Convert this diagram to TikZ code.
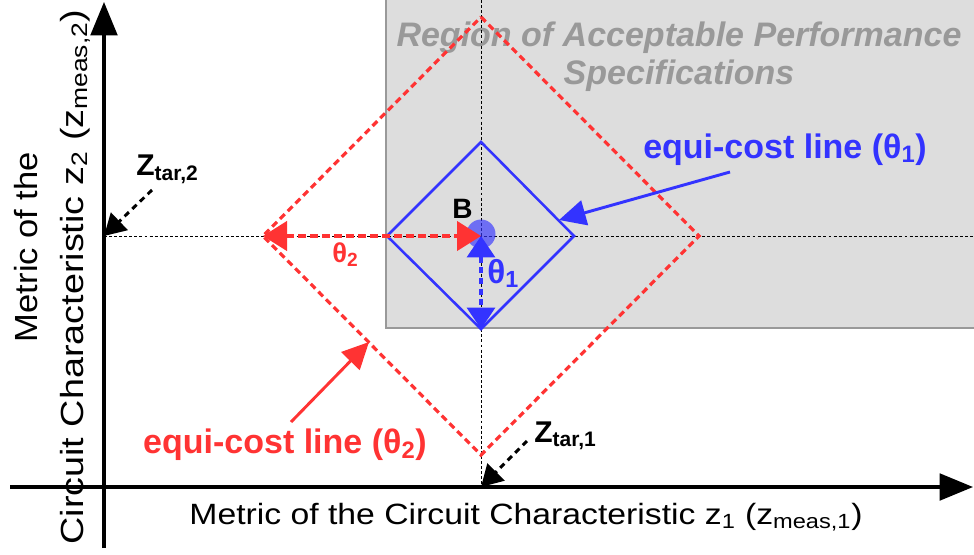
\documentclass[tikz,border=0pt]{standalone}
\usepackage{fontspec}
\usepackage{graphicx}
\setmainfont{Liberation Sans}
\usetikzlibrary{arrows.meta}
\definecolor{cred}{HTML}{FF3333}
\definecolor{cblue}{HTML}{3333FF}
\definecolor{regfill}{HTML}{DDDDDD}
\definecolor{regdraw}{HTML}{999999}
\begin{document}
\begin{tikzpicture}[x=0.75pt,y=-0.75pt,
  axis/.style={line width=2.3pt,-{Triangle[length=25pt,width=20pt]}},
  guide/.style={line width=0.7pt,dash pattern=on 2.2pt off 1.6pt},
  reddiamond/.style={cred,line width=2.4pt,dash pattern=on 5pt off 3.2pt},
  bluediamond/.style={cblue,line width=1.9pt,line join=miter},
  redarrow/.style={cred,line width=2.4pt,dash pattern=on 5.5pt off 3.5pt,{Triangle[length=18pt,width=22pt]}-{Triangle[length=18pt,width=22pt]}},
  bluearrow/.style={cblue,line width=2.3pt,dash pattern=on 4.5pt off 3.5pt,{Triangle[length=16pt,width=21pt]}-{Triangle[length=16pt,width=21pt]}},
  tararrow/.style={black,line width=2.2pt,dash pattern=on 4.5pt off 3.5pt,-{Triangle[length=16pt,width=18pt]}},
  callout/.style={line width=2.2pt,-{Triangle[length=20pt,width=19pt]}},
  lbl/.style={inner sep=0pt,anchor=base west,font=\bfseries\fontsize{22.5}{26}\selectfont},
  eqlbl/.style={inner sep=0pt,anchor=base,font=\bfseries\fontsize{25.5}{30}\selectfont},
  axlbl/.style={inner sep=0pt,anchor=base},
]
\useasboundingbox (0,0) rectangle (974,554);
\clip (0,0) rectangle (974,554);
% region of acceptable performance
\path[fill=regfill,draw=regdraw,line width=1.6pt] (386,-10) rectangle (990,328);
\node[inner sep=0pt,text=regdraw,align=center,font=\bfseries\itshape\fontsize{25.5}{28.5}\selectfont] (title) at (679,57) {Region of Acceptable Performance\\Specifications};
% coordinates
\coordinate (B) at (481,236);
\coordinate (ztar2) at (104,236);
\coordinate (ztar1) at (481,487);
\coordinate (rtop) at (481,17);
\coordinate (rleft) at (263,236);
\coordinate (rright) at (699,236);
\coordinate (rbot) at (481,455);
\coordinate (btop) at (481,142);
\coordinate (bleft) at (387,236);
\coordinate (bright) at (574,236);
\coordinate (bbot) at (481,329);
% guide lines
\draw[guide] (ztar2) -- (974,236);
\draw[guide] (481,0) -- (ztar1);
% diamonds
\draw[reddiamond] (rtop) -- (rright) -- (rbot) -- (rleft) -- cycle;
\draw[bluediamond] (btop) -- (bright) -- (bbot) -- (bleft) -- cycle;
% point B
\fill[cblue,opacity=0.65] (481,234) circle[radius=14.5];
\node[lbl,font=\bfseries\fontsize{21}{25}\selectfont] (Blbl) at (452,218) {B};
% theta arrows
\draw[redarrow] (rleft) -- (B);
\draw[bluearrow] (B) -- (bbot);
\node[lbl,text=cred,font=\bfseries\fontsize{20.5}{24}\selectfont] (th2) at (332,262) {θ\textsubscript{2}};
\node[lbl,text=cblue,font=\bfseries\fontsize{25}{29}\selectfont] (th1) at (487,283) {θ\textsubscript{1}};
% axes
\draw[axis] (104,548) -- (104,2);
\draw[axis] (10,487) -- (973,487);
% targets
\node[lbl] (zt2) at (136,175) {Z\textsubscript{tar,2}};
\node[lbl] (zt1) at (534,442) {Z\textsubscript{tar,1}};
\coordinate (zt2s) at (152,190);
\coordinate (zt1s) at (527,441);
\draw[tararrow] (zt2s) -- (ztar2);
\draw[tararrow] (zt1s) -- (ztar1);
% callouts
\node[eqlbl,text=cblue] (eq1) at (785,158) {equi-cost line (θ\textsubscript{1})};
\node[eqlbl,text=cred] (eq2) at (285,453) {equi-cost line (θ\textsubscript{2})};
\coordinate (eq1s) at (730,172);
\coordinate (eq1t) at (559,220);
\coordinate (eq2s) at (291,422);
\coordinate (eq2t) at (369,342);
\draw[callout,cblue] (eq1s) -- (eq1t);
\draw[callout,cred] (eq2s) -- (eq2t);
% axis labels
\node[axlbl,font=\fontsize{22}{26}\selectfont] (xlbl) at (526,524) {\scalebox{1.15}[1]{Metric of the Circuit Characteristic z\textsubscript{1} (z\textsubscript{meas,1})}};
\node[axlbl,rotate=90,font=\fontsize{24}{28}\selectfont] (ylbl1) at (37,247) {\scalebox{1.08}[1]{Metric of the}};
\node[axlbl,rotate=90,font=\fontsize{24}{28}\selectfont] (ylbl2) at (83,277) {\scalebox{1.18}[1]{Circuit Characteristic z\textsubscript{2} (z\textsubscript{meas,2})}};
\end{tikzpicture}
\end{document}
